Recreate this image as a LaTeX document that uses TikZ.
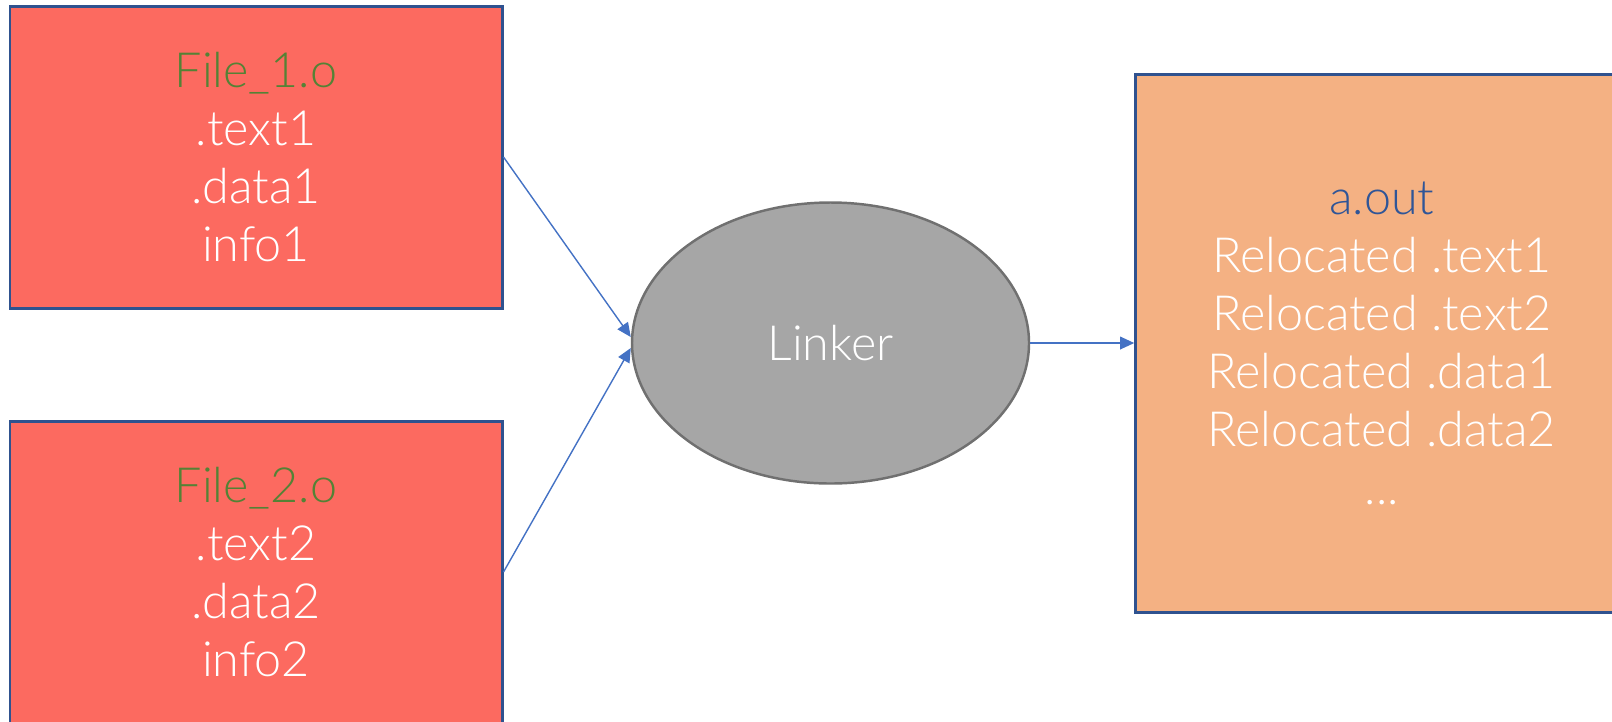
\documentclass[tikz,border=0pt]{standalone}
\usepackage{fontspec}
\setmainfont{Lato}[UprightFont={* Light}]
\definecolor{lk_red}{RGB}{252, 106, 96}
\definecolor{lk_orange}{RGB}{244, 177, 131}
\definecolor{lk_edge}{RGB}{47, 82, 143}
\definecolor{lk_green}{RGB}{84, 130, 53}
\definecolor{lk_title}{RGB}{47, 85, 151}
\definecolor{lk_gray}{RGB}{166, 166, 166}
\definecolor{lk_grayedge}{RGB}{112, 112, 112}
\definecolor{lk_arrow}{RGB}{68, 114, 196}
\usepackage{tikz}
\usetikzlibrary{arrows.meta, positioning, shapes.geometric}

\begin{document}
\begin{tikzpicture}[
    objfile/.style={draw=lk_edge, line width=0.85pt, fill=lk_red, minimum width=4.92cm,
      minimum height=3.02cm, inner sep=0pt, align=center, text=white,
      font=\fontsize{13.8}{16.5}\selectfont},
    linkarrow/.style={draw=lk_arrow, line width=0.4pt, -{Triangle[length=4pt, width=3.6pt]}}
  ]
        \useasboundingbox (0,0) rectangle (16.12,-7.21);

        % input object files
        \node[objfile] (file1) at (2.56,-1.57)
          {\textcolor{lk_green}{File\_1.o}\\.text1\\.data1\\info1};
        \node[objfile] (file2) at (2.56,-5.72)
          {\textcolor{lk_green}{File\_2.o}\\.text2\\.data2\\info2};

        % linker
        \node[ellipse, draw=lk_grayedge, line width=0.7pt, fill=lk_gray, minimum width=3.97cm,
          minimum height=2.81cm, inner sep=0pt, text=white,
          font=\fontsize{13.8}{16.5}\selectfont] (linker) at (8.305,-3.43) {Linker};

        % output
        \node[objfile, fill=lk_orange, minimum height=5.38cm, right=1.04cm of linker] (aout)
          {\textcolor{lk_title}{a.out}\\Relocated .text1\\Relocated .text2\\Relocated .data1\\Relocated .data2\\...};

        \draw[linkarrow] (file1.east) -- ([yshift=0.06cm]linker.west);
        \draw[linkarrow] (file2.east) -- ([yshift=-0.05cm]linker.west);
        \draw[linkarrow] (linker.east) -- (aout.west);
      \end{tikzpicture}
\end{document}
